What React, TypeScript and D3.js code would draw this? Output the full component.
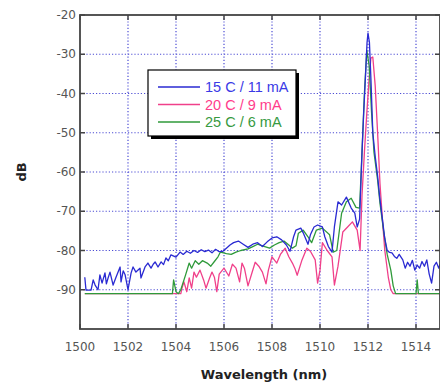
import React, { useEffect, useRef } from 'react'
import * as d3 from 'd3'

const width = 440
const height = 383
const margin = { top: 15, right: 0, bottom: 54, left: 80 }

// tick labels
const xTicks = [1500, 1502, 1504, 1506, 1508, 1510, 1512, 1514]
const yTicks = [-20, -30, -40, -50, -60, -70, -80, -90]

// legend
const seriesNames = ['15 C / 11 mA', '20 C / 9 mA', '25 C / 6 mA']
const seriesColors = ['#2a2ad2', '#f0408a', '#2f9a3a']
const legendTextColors = ['#3a3ae6', '#ff3d8b', '#379a3f']

// [wavelength nm, dB]
const blue15C: [number, number][] = [
  [1500.2, -86.8], [1500.25, -90.1], [1500.46, -90.1], [1500.55, -87.5], [1500.63, -88.8], [1500.75, -90],
  [1500.83, -86.2], [1500.92, -88.3], [1501.04, -85.7], [1501.1, -88.5], [1501.17, -87], [1501.25, -85.5],
  [1501.38, -88.8], [1501.5, -86.8], [1501.67, -84.2], [1501.71, -88], [1501.8, -85.2], [1501.88, -86.2],
  [1502.0, -90], [1502.13, -85.7], [1502.21, -84.2], [1502.33, -85.5], [1502.5, -84.5],
  [1502.54, -87], [1502.71, -84.2], [1502.83, -83.2], [1502.96, -84.5], [1503.05, -83.5], [1503.13, -82.9],
  [1503.25, -84.2], [1503.38, -82.9], [1503.48, -83.6], [1503.58, -81.9], [1503.68, -82.6], [1503.79, -81.1], [1504.0, -81.7],
  [1504.17, -80.4], [1504.3, -81], [1504.45, -80.2], [1504.6, -80.7], [1504.75, -80],
  [1504.9, -80.5], [1505.05, -79.8], [1505.2, -80.3], [1505.35, -79.9], [1505.5, -80.6],
  [1505.65, -79.7], [1505.8, -80.3], [1505.95, -80.2], [1506.1, -79.4], [1506.25, -78.6],
  [1506.4, -78], [1506.6, -77.6], [1506.8, -78.4], [1507.0, -79.2], [1507.2, -78.4],
  [1507.4, -78.0], [1507.6, -79.0], [1507.8, -77.8], [1508.0, -76.8], [1508.2, -76.5],
  [1508.4, -77.3], [1508.6, -78.6], [1508.75, -80.2], [1508.9, -76.5], [1509.0, -74.8],
  [1509.2, -74.3], [1509.3, -75.5], [1509.5, -78.4], [1509.6, -76], [1509.75, -74],
  [1509.9, -73.5], [1510.1, -74], [1510.2, -76.5], [1510.35, -79], [1510.5, -80.4],
  [1510.6, -74], [1510.75, -67.6], [1510.9, -68.4], [1511.1, -66.4], [1511.3, -69.2],
  [1511.45, -70.5], [1511.55, -74], [1511.65, -72], [1511.75, -55], [1511.82, -45],
  [1511.9, -35], [1511.96, -27], [1512.0, -24.6], [1512.06, -27], [1512.12, -36],
  [1512.2, -50], [1512.3, -56], [1512.4, -61], [1512.48, -66], [1512.6, -72],
  [1512.7, -77], [1512.8, -80], [1512.9, -80.5], [1513.0, -80.6], [1513.1, -81.5],
  [1513.2, -82], [1513.3, -81], [1513.45, -82.4], [1513.55, -84.5], [1513.65, -83],
  [1513.75, -84], [1513.85, -82.5], [1513.95, -85], [1514.05, -83.7], [1514.15, -84.5],
  [1514.25, -82.8], [1514.35, -84], [1514.45, -82.4], [1514.55, -86], [1514.65, -88.3],
  [1514.75, -84], [1514.85, -83], [1514.95, -84.5], [1515.0, -83.5],
]

const pink20C: [number, number][] = [
  [1500.2, -91], [1504.2, -91], [1504.25, -89.6], [1504.33, -88], [1504.45, -90.5],
  [1504.55, -87], [1504.65, -89.6], [1504.75, -85.5], [1504.85, -86.8], [1505.0, -85],
  [1505.15, -87.5], [1505.25, -89.6], [1505.4, -87], [1505.5, -85.5], [1505.6, -86.8],
  [1505.7, -90.5], [1505.8, -86], [1506.0, -84.5], [1506.2, -86.5], [1506.35, -83.5],
  [1506.5, -84.5], [1506.65, -88], [1506.75, -83.2], [1506.85, -84.5], [1507.0, -89],
  [1507.15, -86], [1507.3, -83], [1507.45, -84], [1507.6, -85.5], [1507.75, -88.5],
  [1507.85, -85], [1508.0, -81.6], [1508.2, -83.2], [1508.35, -81], [1508.55, -79.4],
  [1508.7, -81.6], [1508.85, -83.2], [1508.95, -84.5], [1509.05, -86.3], [1509.25, -82.4],
  [1509.45, -79.4], [1509.6, -80.2], [1509.8, -82.4], [1509.9, -88.3], [1510.0, -85],
  [1510.1, -78], [1510.3, -80], [1510.5, -81.6], [1510.6, -88.8], [1510.75, -84],
  [1510.95, -75.3], [1511.15, -74], [1511.35, -72.7], [1511.55, -74.8], [1511.67, -80],
  [1511.75, -66], [1511.85, -55], [1511.95, -45], [1512.05, -36], [1512.12, -31],
  [1512.2, -30.7], [1512.3, -38], [1512.4, -50], [1512.5, -63], [1512.6, -72],
  [1512.7, -80], [1512.85, -87], [1512.95, -90], [1513.05, -91], [1515.0, -91],
]

const green25C: [number, number][] = [
  [1500.2, -91], [1503.85, -91], [1503.9, -87.5], [1504.0, -90.5], [1504.1, -91],
  [1504.2, -90], [1504.4, -86.2], [1504.55, -83.2], [1504.65, -84.5], [1504.8, -82.6],
  [1504.95, -83.5], [1505.1, -82.6], [1505.3, -83.2], [1505.45, -84], [1505.6, -82.8],
  [1505.75, -81.6], [1505.85, -80.4], [1506.1, -80.8], [1506.3, -81], [1506.5, -80.4],
  [1506.7, -80.0], [1507.0, -79.6], [1507.2, -79.0], [1507.4, -78.4], [1507.6, -78.8],
  [1507.9, -79.4], [1508.1, -78.6], [1508.3, -78.0], [1508.5, -77.6], [1508.7, -78.6],
  [1508.85, -79.4], [1509.0, -78.8], [1509.1, -75.6], [1509.3, -74.8], [1509.5, -76.5],
  [1509.65, -78], [1509.85, -74.8], [1510.1, -74.3], [1510.4, -76], [1510.55, -80.4],
  [1510.7, -80], [1510.9, -70.5], [1511.1, -67.6], [1511.3, -66.7], [1511.5, -69],
  [1511.65, -69.2], [1511.75, -55], [1511.85, -40], [1511.95, -29], [1512.05, -33],
  [1512.15, -45], [1512.25, -55], [1512.4, -62], [1512.5, -68], [1512.65, -75],
  [1512.8, -81], [1512.95, -85], [1513.05, -89], [1513.15, -91], [1514.0, -91],
  [1514.05, -87.5], [1514.1, -91], [1515.0, -91],
]

// drawn pink first, blue on top
const drawOrder = [1, 2, 0]
const seriesData = [blue15C, pink20C, green25C]

const App = () => {
  const ref = useRef<SVGSVGElement>(null)

  useEffect(() => {
    const svg = d3.select(ref.current)
    svg.selectAll('*').remove()

    const x = d3.scaleLinear().domain([1500, 1515]).range([margin.left, width - margin.right])
    const y = d3.scaleLinear().domain([-100, -20]).range([height - margin.bottom, margin.top])
    const [x0, x1] = x.range()
    const [y0, y1] = y.range()

    // dotted grid
    const grid = svg.append('g')
      .attr('stroke', '#4c4cd4')
      .attr('stroke-width', 1.2)
      .attr('stroke-dasharray', '1.2,2')
    xTicks.slice(1).forEach(t => {
      grid.append('line').attr('x1', x(t)).attr('x2', x(t)).attr('y1', y1).attr('y2', y0)
    })
    yTicks.slice(1).forEach(t => {
      grid.append('line').attr('x1', x0).attr('x2', x1).attr('y1', y(t)).attr('y2', y(t))
    })

    // spectra
    const line = d3.line<[number, number]>().x(d => x(d[0])).y(d => y(d[1]))
    drawOrder.forEach(i => {
      svg.append('path')
        .attr('d', line(seriesData[i]))
        .attr('fill', 'none')
        .attr('stroke', seriesColors[i])
        .attr('stroke-width', 1.3)
        .attr('stroke-linejoin', 'round')
    })

    // frame + inside ticks
    svg.append('rect')
      .attr('x', x0).attr('y', y1)
      .attr('width', x1 - x0).attr('height', y0 - y1)
      .attr('fill', 'none').attr('stroke', '#444').attr('stroke-width', 1.8)
    const ticks = svg.append('g').attr('stroke', '#444').attr('stroke-width', 1.5)
    xTicks.forEach(t => {
      ticks.append('line').attr('x1', x(t)).attr('x2', x(t)).attr('y1', y0).attr('y2', y0 - 5)
      ticks.append('line').attr('x1', x(t)).attr('x2', x(t)).attr('y1', y1).attr('y2', y1 + 5)
    })
    yTicks.forEach(t => {
      ticks.append('line').attr('x1', x0).attr('x2', x0 + 5).attr('y1', y(t)).attr('y2', y(t))
      ticks.append('line').attr('x1', x1).attr('x2', x1 - 5).attr('y1', y(t)).attr('y2', y(t))
    })

    // tick labels
    const labels = svg.append('g')
      .attr('font-family', 'DejaVu Sans, sans-serif')
      .attr('font-size', 12)
      .attr('fill', '#555')
    xTicks.forEach(t => {
      labels.append('text').attr('x', x(t)).attr('y', 351)
        .attr('text-anchor', 'middle').text(t)
    })
    yTicks.forEach(t => {
      labels.append('text').attr('x', x0 - 4).attr('y', y(t))
        .attr('dy', '0.35em').attr('text-anchor', 'end').text(t)
    })

    // axis titles
    svg.append('text')
      .attr('x', (x0 + x1) / 2 + 4).attr('y', 379)
      .attr('text-anchor', 'middle')
      .attr('font-family', 'DejaVu Sans, sans-serif')
      .attr('font-weight', 'bold').attr('font-size', 13).attr('fill', '#222')
      .text('Wavelength (nm)')
    svg.append('text')
      .attr('transform', `translate(26, ${(y0 + y1) / 2}) rotate(-90)`)
      .attr('text-anchor', 'middle')
      .attr('font-family', 'DejaVu Sans, sans-serif')
      .attr('font-weight', 'bold').attr('font-size', 13).attr('fill', '#222')
      .text('dB')

    // legend
    const lg = svg.append('g')
    lg.append('rect').attr('x', 151).attr('y', 73).attr('width', 148).attr('height', 66).attr('fill', '#000')
    lg.append('rect').attr('x', 148).attr('y', 70).attr('width', 148).attr('height', 66)
      .attr('fill', '#fff').attr('stroke', '#000').attr('stroke-width', 1.2)
    seriesNames.forEach((name, i) => {
      const ly = 87 + i * 17.5
      lg.append('line').attr('x1', 158).attr('x2', 200).attr('y1', ly).attr('y2', ly)
        .attr('stroke', seriesColors[i]).attr('stroke-width', 1.3)
      lg.append('text').attr('x', 205).attr('y', ly).attr('dy', '0.36em')
        .attr('font-family', 'Liberation Sans, Arial, sans-serif')
        .attr('font-size', 14.5).attr('fill', legendTextColors[i])
        .text(name)
    })
  }, [])

  return (
    <svg ref={ref} width={width} height={height}
      style={{ position: 'absolute', left: 0, top: 0, background: '#fff' }} />
  )
}

export default App
